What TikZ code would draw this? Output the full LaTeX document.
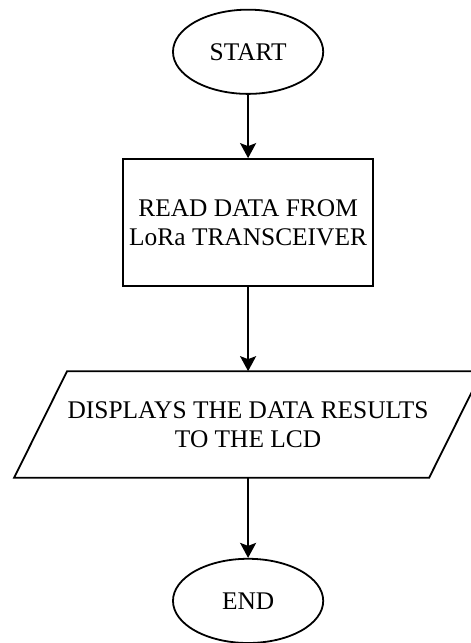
\documentclass[tikz,border=0pt]{standalone}
\usepackage{fontspec}
\setmainfont{Liberation Serif}
\usepackage{tikz}
\usetikzlibrary{positioning, arrows.meta, shapes.geometric}
\newcommand{\slantbox}[1]{%
  \draw[line width=0.9pt]
    ([xshift=-0.466cm]#1.south west) -- ([xshift=-0.466cm]#1.south east)
    -- ([xshift=0.466cm]#1.north east) -- ([xshift=0.466cm]#1.north west) -- cycle;%
}

\begin{document}
\begin{tikzpicture}[
  term/.style={ellipse, draw, line width=0.9pt, minimum width=2.64cm, minimum height=1.48cm, inner sep=0pt, align=center, font=\fontsize{12.7}{14.5}\selectfont},
  proc/.style={rectangle, draw, line width=0.9pt, minimum width=4.39cm, minimum height=2.23cm, inner sep=0pt, align=center, font=\fontsize{12.7}{14.5}\selectfont},
  io/.style={rectangle, minimum width=7.28cm, minimum height=1.86cm, inner sep=0pt, align=center, font=\fontsize{12.7}{14.5}\selectfont},
  link/.style={-{Stealth[length=7.5pt, width=8pt, inset=1.5pt]}, line width=0.9pt}
]
\useasboundingbox (0,0) rectangle (8.26,-11.30);

% ===== Flow steps =====
\node[term] (start) at (4.36, -0.91) {START};
\node[proc] (read)  at (4.36, -3.91) {READ DATA FROM\\LoRa TRANSCEIVER};
\node[io]   (show)  at (4.36, -7.46) {DISPLAYS THE DATA RESULTS\\TO THE LCD};
\node[term] (end)   at (4.36, -10.56) {END};

% slanted input/output box
\slantbox{show}

% ===== Links =====
\draw[link] (start) -- (read);
\draw[link] (read) -- (show);
\draw[link] (show) -- (end);

\end{tikzpicture}
\end{document}
